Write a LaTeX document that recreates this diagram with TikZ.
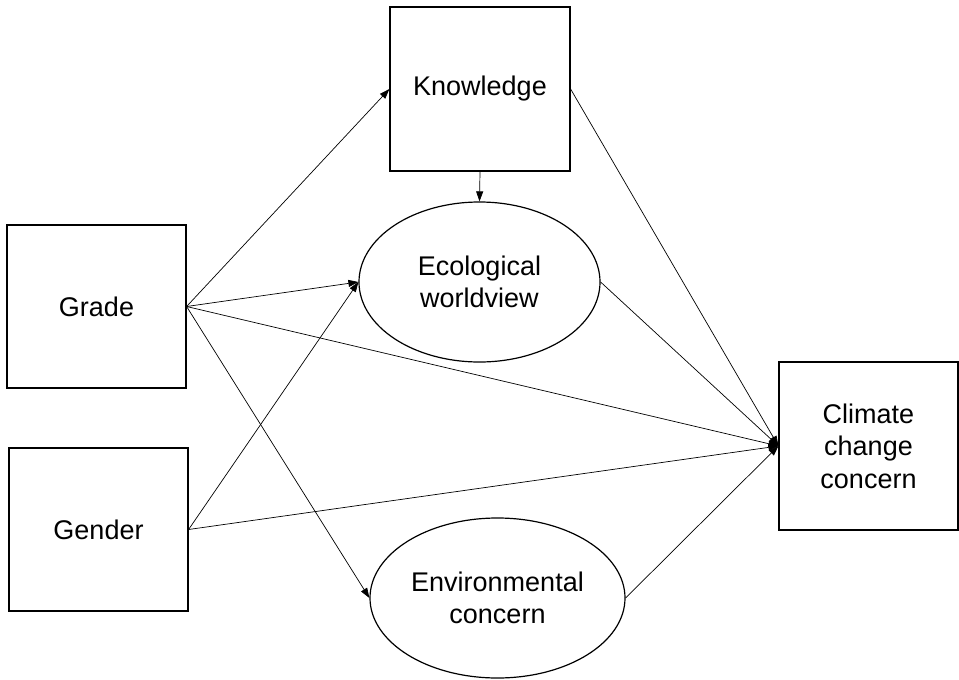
\documentclass[tikz,border=0pt]{standalone}
\usepackage{fontspec}
\setmainfont{Liberation Sans}
\usetikzlibrary{shapes.geometric, arrows.meta, positioning}
\tikzset{
  observed/.style={rectangle, draw=black, line width=1.2pt, minimum width=179pt, minimum height=163pt, inner sep=0pt, align=center, font=\fontsize{27}{32.5}\selectfont},
  latent/.style={ellipse, draw=black, line width=1.2pt, minimum width=241pt, minimum height=160pt, inner sep=0pt, align=center, font=\fontsize{27}{32.5}\selectfont},
  effect/.style={line width=0.7pt, -{Triangle[length=10pt,width=7pt]}}
}

\begin{document}
\begin{tikzpicture}[x=1pt, y=-1pt]
\useasboundingbox (0,0) rectangle (959,680);

% Predictors
\node[observed] (grade) at (96.5,306.5) {Grade};
\node[observed] (gender) at (98.5,529.5) {Gender};

% Mediators
\node[observed, minimum width=180pt, minimum height=164pt] (know) at (480,89) {Knowledge};
\node[latent] (eco) at (479.5,282) {Ecological\\worldview};
\node[latent, minimum width=255pt] (envc) at (497.5,598) {Environmental\\concern};

% Outcome
\node[observed, minimum height=168pt] (climate) at (868.5,446) {Climate\\change\\concern};

% Paths
\draw[effect] (grade.east) -- (know.west);
\draw[effect] (grade.east) -- (eco.west);
\draw[effect] (grade.east) -- (envc.west);
\draw[effect] (grade.east) -- (climate.west);
\draw[effect] (gender.east) -- (eco.west);
\draw[effect] (gender.east) -- (climate.west);
\draw[effect] (know.south) -- (eco.north);
\draw[effect] (know.east) -- (climate.west);
\draw[effect] (eco.east) -- (climate.west);
\draw[effect] (envc.east) -- (climate.west);
\end{tikzpicture}
\end{document}
